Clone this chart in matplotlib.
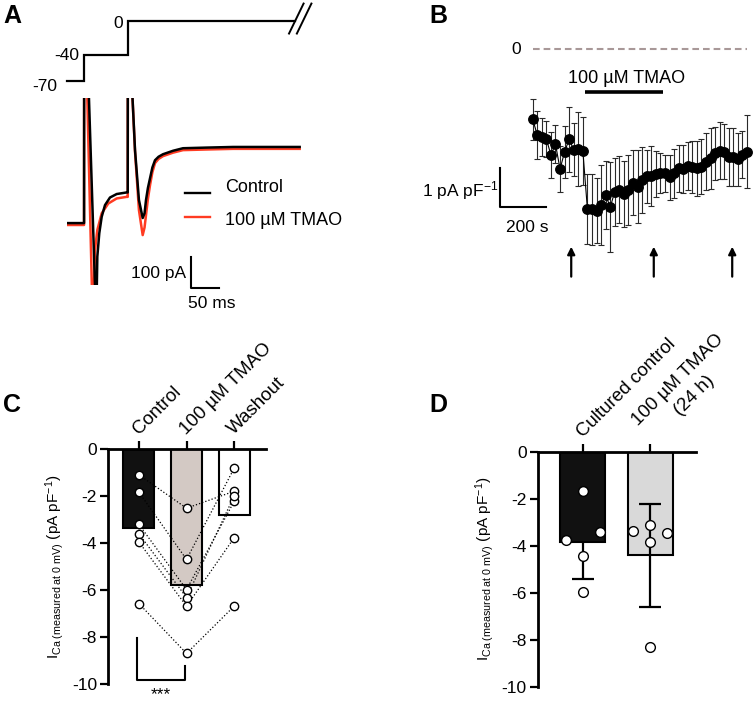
import matplotlib
matplotlib.use('Agg')
import matplotlib.pyplot as plt

plt.rcParams['font.family'] = ['Liberation Sans', 'DejaVu Sans']
plt.rcParams['mathtext.fontset'] = 'custom'
plt.rcParams['mathtext.rm'] = 'Liberation Sans'
plt.rcParams['mathtext.it'] = 'Liberation Sans:italic'
plt.rcParams['mathtext.bf'] = 'Liberation Sans:bold'
plt.rcParams['axes.unicode_minus'] = False

FS = 12.5
RED = '#ff3b22'

# ---------------- data ----------------
# A: voltage protocol (ms, mV)
prot_t = [0, 31, 31, 109, 109, 408]
prot_mv = [-70, -70, -40, -40, 0, 0]

# A: current traces (ms, pA) (spikes go off-scale)
ctrl_t = [0, 31, 31.2, 36, 52, 53, 54.7, 58.2, 62.5, 68.4, 77.3, 89.3, 107, 109,
          109.2, 112, 122, 129, 135.7, 139, 141.6, 145, 148.8, 153, 157.7, 164, 172,
          190, 207.7, 250, 297, 416]
ctrl_i = [-1, -1, 600, 600, -280, -280, -107, -33, 19, 56, 80, 91, 96, 96,
          600, 600, 230, 72, 15, 30, 72, 110, 141, 175, 198, 209, 217,
          228, 236, 238, 240, 240]
tmao_t = [0, 31, 31.2, 34, 46, 47.5, 50.5, 54.7, 62.5, 74.3, 89.3, 107, 109,
          109.2, 112, 122, 129, 135.7, 139, 141.6, 145, 148.8, 153, 157.7, 164, 172,
          190, 207.7, 250, 297, 416]
tmao_i = [-7, -7, 600, 600, -280, -280, -86, -23, 30, 61, 77, 82, 82,
          600, 600, 225, 40, -39, -15, 24, 75, 119, 160, 189, 202, 211,
          222, 230, 232, 234, 234]

# B: time course (s, pA pF-1), mean and SEM
tc_t = [0, 20, 40, 60, 80, 100, 120, 140, 160, 180, 200, 220,
        240, 260, 280, 300, 320, 340, 360, 380, 400, 420, 440, 460,
        480, 500, 520, 540, 560, 580, 600, 620, 640, 660, 680, 700,
        720, 740, 760, 780, 800, 820, 840, 860, 880, 900, 920, 940]
tc_mean = [-1.82, -2.23, -2.28, -2.34, -2.75, -2.47, -3.12, -2.67, -2.34, -2.62, -2.60, -2.65,
           -4.16, -4.17, -4.20, -4.05, -3.79, -4.11, -3.71, -3.66, -3.77, -3.66, -3.47, -3.58,
           -3.40, -3.30, -3.30, -3.25, -3.23, -3.23, -3.33, -3.23, -3.10, -3.12, -3.04, -3.06,
           -3.10, -3.06, -2.93, -2.84, -2.71, -2.64, -2.67, -2.80, -2.80, -2.86, -2.75, -2.67]
tc_sem = [0.53, 0.63, 0.50, 0.46, 0.59, 0.50, 0.60, 0.68, 0.85, 0.69, 0.96, 0.89,
          0.91, 0.93, 0.85, 1.04, 0.89, 1.17, 0.89, 0.87, 0.85, 0.91, 0.85, 0.95,
          0.85, 0.69, 0.78, 0.59, 0.52, 0.48, 0.59, 0.63, 0.61, 0.63, 0.63, 0.67,
          0.72, 0.72, 0.74, 0.80, 0.69, 0.74, 0.72, 0.76, 0.76, 0.69, 0.61, 0.95]
tmao_on = [231, 571]
arrow_t = [169, 531, 875]

# C: paired cells
c_labels = ['Control', '100 µM TMAO', 'Washout']
c_means = [-3.36, -5.78, -2.81]
c_ctrl = [-1.10, -1.84, -3.21, -3.61, -3.96, -6.58]
c_tmao = [-2.52, -4.70, -5.98, -6.32, -6.69, -8.70]
c_wash = [-1.80, -0.82, -2.23, -2.00, -3.78, -6.69]

# D: cultured cells
d_labels = ['Cultured control', '100 µM TMAO\n(24 h)']
d_means = [-3.83, -4.41]
d_sd = [1.59, 2.18]
d_ctrl = [-1.67, -3.76, -3.42, -4.45, -5.97]
d_ctrl_jit = [0, -0.25, 0.25, 0, 0]
d_tmao = [-3.39, -3.11, -3.86, -3.48, -8.30]
d_tmao_jit = [-0.25, 0, 0, 0.25, 0]

ylab = r'$\mathregular{I_{Ca\ (measured\ at\ 0\ mV)}\ (pA\ pF^{-1})}$'

W, H = 754, 701
fig = plt.figure(figsize=(W / 100, H / 100), dpi=100)


def box(x0, y0, x1, y1):
    # pixel box (top-left origin) -> figure fraction rect
    return [x0 / W, 1 - y1 / H, (x1 - x0) / W, (y1 - y0) / H]


# ---------------- A ----------------
axv = fig.add_axes(box(66.7, 20.7, 313.1, 80.7))
axv.set_xlim(0, 440)
axv.set_ylim(-70, 0)
axv.axis('off')
axv.plot(prot_t, prot_mv, color='k', lw=1.6, clip_on=False, solid_joinstyle='miter')
for x0 in (397, 411):
    axv.plot([x0, x0 + 26], [-15, 20], color='k', lw=1.4, clip_on=False)
axv.text(-16.8, -81.7, '-70', ha='right', va='baseline', fontsize=FS)
axv.text(22.5, -45.9, '-40', ha='right', va='baseline', fontsize=FS)
axv.text(100, -8.9, '0', ha='right', va='baseline', fontsize=FS)

axi = fig.add_axes(box(66.7, 98, 313.1, 285))
axi.set_xlim(0, 440)
axi.set_ylim(-197, 395)
axi.axis('off')
axi.plot(tmao_t, tmao_i, color=RED, lw=1.8)
axi.plot(ctrl_t, ctrl_i, color='k', lw=1.8)
# legend
axi.plot([211, 256], [93, 93], color='k', lw=1.7, clip_on=False)
axi.plot([211, 256], [19, 19], color=RED, lw=1.7, clip_on=False)
axi.text(283, 98, 'Control', fontsize=13, va='baseline')
axi.text(283, -7, '100 µM TMAO', fontsize=13, va='baseline')
# scale bar
axi.plot([222, 222, 272], [-107.6, -207.6, -207.6], color='k', lw=1.5, clip_on=False)
axi.text(214, -176, '100 pA', ha='right', va='baseline', fontsize=FS)
axi.text(258.6, -271, '50 ms', ha='center', va='baseline', fontsize=FS)

# ---------------- B ----------------
axb = fig.add_axes(box(496.2, 30.1, 751.6, 298.9))
axb.set_xlim(-160, 960)
axb.set_ylim(-6.5, 0.5)
axb.axis('off')
axb.plot([tc_t[0], tc_t[-1]], [0, 0], ls=(0, (3.2, 1.9)), color='#a89898', lw=1.5)
axb.text(-51, 0, '0', ha='right', va='center', fontsize=FS)
axb.errorbar(tc_t, tc_mean, yerr=tc_sem, fmt='none', ecolor='#2a2a2a',
             elinewidth=0.8, capsize=2.5, capthick=0.8, zorder=1)
axb.plot(tc_t, tc_mean, '-', color='k', lw=0.8, marker='o', ms=6.8, mfc='k', mec='k', zorder=2)
axb.plot(tmao_on, [-1.12, -1.12], color='k', lw=2.6, solid_capstyle='butt')
axb.text(sum(tmao_on) / 2 + 12, -0.865, '100 µM TMAO', ha='center', va='baseline', fontsize=13)
axb.plot([-142, -142, 58], [-3.10, -4.10, -4.10], color='k', lw=1.5, clip_on=False)
axb.text(-149, -3.84, r'1 pA pF$^{\mathregular{-1}}$', ha='right', va='baseline', fontsize=FS)
axb.text(-25, -4.75, '200 s', ha='center', va='baseline', fontsize=FS)
for t in arrow_t:
    axb.annotate('', xy=(t, -5.14), xytext=(t, -5.92),
                 arrowprops=dict(arrowstyle='-|>', color='k', lw=1.6, mutation_scale=11,
                                 shrinkA=0, shrinkB=0))


def style_bar_axes(ax, labels, xlim):
    ax.set_xlim(*xlim)
    ax.set_ylim(-10, 0)
    ax.spines['bottom'].set_visible(False)
    ax.spines['right'].set_visible(False)
    ax.spines['top'].set_linewidth(2)
    ax.spines['left'].set_linewidth(2)
    ax.xaxis.tick_top()
    ax.set_xticks(range(len(labels)))
    ax.set_xticklabels(labels, rotation=45, ha='left', va='baseline',
                       rotation_mode='anchor', fontsize=13.5, multialignment='center',
                       linespacing=1.45)
    ax.set_yticks([0, -2, -4, -6, -8, -10])
    ax.tick_params(axis='x', direction='out', length=6, width=1.6, pad=4)
    ax.tick_params(axis='y', direction='out', length=6, width=1.6, pad=2, labelsize=FS)
    ax.set_ylabel(ylab, fontsize=11, labelpad=4)


# ---------------- C ----------------
axc = fig.add_axes(box(108, 449, 266, 684))
style_bar_axes(axc, c_labels, (-0.65, 2.67))
axc.bar(range(3), c_means, width=0.65, color=['#111111', '#d3c9c4', 'white'],
        edgecolor='k', linewidth=1.5, zorder=1)
for a, b, c in zip(c_ctrl, c_tmao, c_wash):
    axc.plot([0, 1], [a, b], ls=':', color='k', lw=0.9, zorder=2)
    axc.plot([1, 2], [b, c], ls=':', color='k', lw=0.9, zorder=2)
for i, vals in enumerate([c_ctrl, c_tmao, c_wash]):
    axc.plot([i] * len(vals), vals, 'o', ms=6, mfc='white', mec='k', mew=1, zorder=3)
axc.plot([-0.05, -0.05, 0.96, 0.96], [-8.06, -9.83, -9.83, -9.22], color='k', lw=1.5,
         clip_on=False)
axc.text(0.45, -10.12, '***', ha='center', va='top', fontsize=FS, clip_on=False)

# ---------------- D ----------------
axd = fig.add_axes(box(537.7, 451.7, 696, 686.7))
style_bar_axes(axd, d_labels, (-0.66, 1.67))
axd.bar(range(2), d_means, width=0.66, color=['#111111', '#d9d9d9'],
        edgecolor='k', linewidth=1.5, zorder=1)
# control whisker sits behind its black bar, the TMAO one is drawn over its bar
for i, z in ((0, 0.5), (1, 2)):
    axd.errorbar([i], [d_means[i]], yerr=[d_sd[i]], fmt='none', ecolor='k', elinewidth=1.6,
                 capsize=8, capthick=1.6, zorder=z)
axd.plot([0 + j for j in d_ctrl_jit], d_ctrl, 'o', ms=7, mfc='white', mec='k', mew=1, zorder=3)
axd.plot([1 + j for j in d_tmao_jit], d_tmao, 'o', ms=7, mfc='white', mec='k', mew=1, zorder=3)

# panel letters
for letter, (px, py) in {'A': (3, 23.3), 'B': (429, 23), 'C': (3, 412), 'D': (429, 412)}.items():
    fig.text(px / W, 1 - py / H, letter, fontsize=18, fontweight='bold', va='baseline')

fig.savefig('out.png', dpi=100)
